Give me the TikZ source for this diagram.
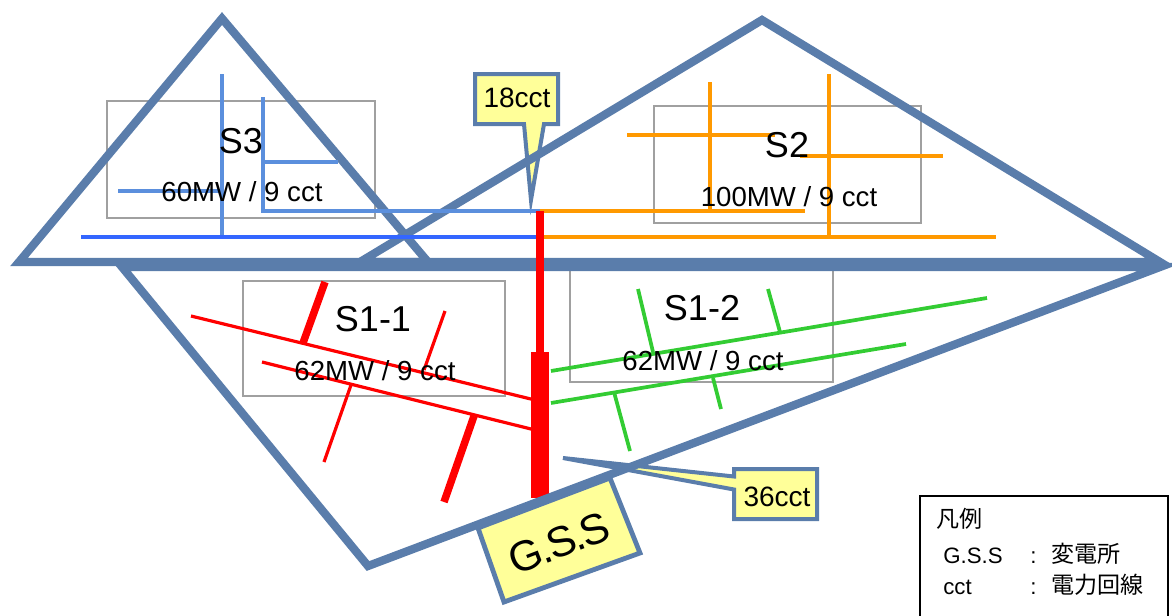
\documentclass[tikz,border=0pt]{standalone}
\usepackage{fontspec}
\setmainfont{Liberation Sans}
\newfontfamily\cjk{Noto Sans CJK JP}
\newfontfamily\gssfont[LetterSpace=-6]{Liberation Sans}
\definecolor{steel}{HTML}{5A7DAB}
\definecolor{pale}{HTML}{FFFF99}
\definecolor{s3line}{HTML}{5B8FDD}
\definecolor{s3main}{HTML}{3366FF}
\definecolor{orangeline}{HTML}{FF9900}
\definecolor{greenline}{HTML}{33CC33}
\definecolor{redline}{HTML}{FF0000}
\definecolor{boxgray}{HTML}{A0A0A0}
\tikzset{
  area/.style={draw=steel,line width=6.2pt,line join=miter,miter limit=10},
  zonebox/.style={draw=boxgray,line width=1.5pt},
  callout/.style={draw=steel,fill=pale,line width=3pt,line join=miter,miter limit=20},
  s3feed/.style={draw=s3line,line width=2.5pt},
  s3trunk/.style={draw=s3main,line width=2.5pt},
  orfeed/.style={draw=orangeline,line width=2.5pt},
  redthin/.style={draw=redline,line width=2.4pt},
  redthick/.style={draw=redline,line width=5.6pt},
  greenfeed/.style={draw=greenline,line width=2.8pt},
  bigtxt/.style={font=\fontsize{27}{29}\selectfont,inner sep=0pt},
  midtxt/.style={font=\fontsize{20.7}{23}\selectfont,inner sep=0pt},
  calltxt/.style={font=\fontsize{21}{23}\selectfont,inner sep=0pt},
  legtxt/.style={font=\fontsize{16.7}{18}\selectfont,inner sep=0pt,anchor=base west},
  legcjk/.style={font=\cjk\fontsize{17.3}{18}\selectfont,inner sep=0pt,anchor=base west}
}
\begin{document}
\begin{tikzpicture}[x=0.75pt,y=-0.75pt]
\useasboundingbox (0,0) rectangle (1172,615);
\clip (0,0) rectangle (1172,615);
% gray zone boxes
\draw[zonebox] (107,101) rectangle (375,218);
\draw[zonebox] (654,106) rectangle (921,223);
\draw[zonebox] (243,281) rectangle (505,396);
\draw[zonebox] (570,269) rectangle (833,382);
% callouts
\draw[callout] (475,74) -- (558,74) -- (558,124) -- (544,124) -- (531,200) -- (524,124) -- (475,124) -- cycle;
\draw[callout] (734,469) -- (817,469) -- (817,519) -- (734,519) -- (734,489.5) -- (563,458) -- (734,476.5) -- cycle;
% thick red bus
\draw[draw=redline,line width=13.5pt] (540,352) -- (540,498);
% areas
\draw[area] (222,18.5) -- (19,262) -- (428,262) -- cycle;
\draw[area] (762,20) -- (360,262) -- (1160,262) -- cycle;
\draw[area] (122,267) -- (1160,267) -- (368,566) -- cycle;
% S3 feeders
\draw[s3feed] (222,74) -- (222,237);
\draw[s3feed] (263,97) -- (263,211) -- (540,211);
\draw[s3feed] (263,162) -- (338,162);
\draw[s3feed] (118,191) -- (222,191);
\draw[s3trunk] (81,237) -- (540,237);
% S2 feeders
\draw[orfeed] (540,211) -- (805,211);
\draw[orfeed] (540,237) -- (996,237);
\draw[orfeed] (710,82) -- (710,211);
\draw[orfeed] (829,74) -- (829,237);
\draw[orfeed] (627,135) -- (775,135);
\draw[orfeed] (800,156) -- (943,156);
% S1 red
\draw[redthick,line width=5.8pt] (540,211) -- (540,352);
\draw[redthin] (191,316) -- (535,400);
\draw[redthin] (262,362) -- (535,430);
\draw[redthick] (325,282) -- (303,343);
\draw[redthin] (445,311) -- (424,370);
\draw[redthin] (351,385) -- (324,462);
\draw[redthick] (474,416) -- (444,502);
% S1 green
\draw[greenfeed] (551,371) -- (987,298);
\draw[greenfeed] (551,403) -- (906,344);
\draw[greenfeed] (638,289) -- (653,352);
\draw[greenfeed] (768,289) -- (780,332);
\draw[greenfeed] (614,392) -- (630,451);
\draw[greenfeed] (713,378) -- (721,409);
% G.S.S
\draw[callout,line width=3.6pt] (478,528) -- (610,478) -- (640,553) -- (504,602) -- cycle;
\node[font=\gssfont\fontsize{32}{34}\selectfont,inner sep=0pt,rotate=21] (gss) at (559,543) {G.S.S};
% labels
\node[bigtxt] (s3) at (241,141) {S3};
\node[midtxt] (s3t) at (242,192) {60MW / 9 cct};
\node[bigtxt] (s2) at (787,145) {S2};
\node[midtxt] (s2t) at (789,197) {100MW / 9 cct};
\node[bigtxt] (s11) at (373,319) {S1-1};
\node[midtxt] (s11t) at (375,371) {62MW / 9 cct};
\node[bigtxt] (s12) at (702,308) {S1-2};
\node[midtxt] (s12t) at (703,361) {62MW / 9 cct};
\node[calltxt] (c18) at (517,98) {18cct};
\node[calltxt] (c36) at (777,497) {36cct};
% legend
\draw[black,line width=1.6pt] (920,640) -- (920,496) -- (1168,496) -- (1168,640);
\node[legcjk] (lt) at (936,527) {凡例};
\node[legtxt] (l1) at (943,563) {G.S.S};
\node[legtxt] (l1c) at (1030,563) {:};
\node[legcjk] (l1d) at (1051,562) {変電所};
\node[legtxt] (l2) at (943,594) {cct};
\node[legtxt] (l2c) at (1030,594) {:};
\node[legcjk] (l2d) at (1051,593) {電力回線};
\end{tikzpicture}
\end{document}
